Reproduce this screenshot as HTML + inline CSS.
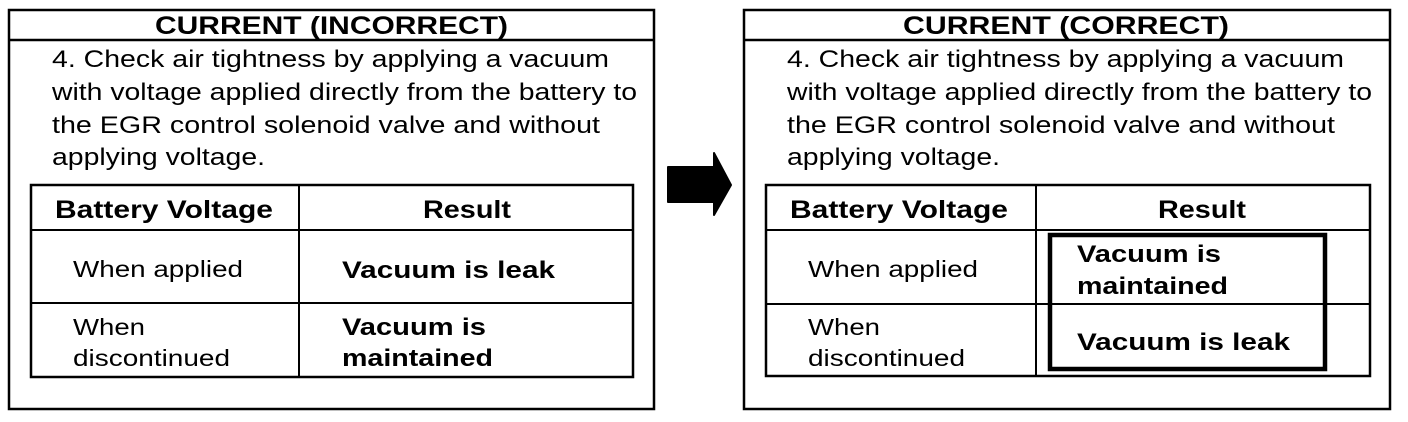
<!DOCTYPE html>
<html><head><meta charset="utf-8"><style>
html,body{margin:0;padding:0;background:#fff;width:1408px;height:422px;overflow:hidden}
svg{display:block}
text{font-family:"Liberation Sans",sans-serif;fill:#000}
.t{font-size:25px;font-weight:bold}
.b{font-size:24px}
.h{font-size:25px;font-weight:bold}
.c{font-size:23px}
.v{font-size:24px;font-weight:bold}
</style></head><body>
<svg width="1408" height="422" viewBox="0 0 1408 422" xmlns="http://www.w3.org/2000/svg">
<g fill="none" stroke="#000">
<rect x="9" y="10" width="645" height="399" stroke-width="2.5"/>
<line x1="9" y1="40" x2="654" y2="40" stroke-width="2.5"/>
<rect x="31" y="185" width="602" height="192" stroke-width="2.5"/>
<line x1="299" y1="185" x2="299" y2="377" stroke-width="2"/>
<line x1="31" y1="230" x2="633" y2="230" stroke-width="2"/>
<line x1="31" y1="303" x2="633" y2="303" stroke-width="2"/>

<rect x="744" y="10" width="646" height="399" stroke-width="2.5"/>
<line x1="744" y1="40" x2="1390" y2="40" stroke-width="2.5"/>
<rect x="766" y="185" width="604" height="191" stroke-width="2.5"/>
<line x1="1036" y1="185" x2="1036" y2="376" stroke-width="2"/>
<line x1="766" y1="230" x2="1370" y2="230" stroke-width="2"/>
<line x1="766" y1="304" x2="1370" y2="304" stroke-width="2"/>
<rect x="1050" y="235" width="275" height="134" stroke-width="4.5"/>
</g>
<path d="M668 167 H714 V153 L731 185 L714 215 V202 H668 Z" fill="#000" stroke="#000" stroke-width="2" stroke-linejoin="round"/>

<text class="t" x="155" y="34" textLength="353" lengthAdjust="spacingAndGlyphs">CURRENT (INCORRECT)</text>
<text class="b" x="52" y="67" textLength="557" lengthAdjust="spacingAndGlyphs">4. Check air tightness by applying a vacuum</text>
<text class="b" x="52" y="100" textLength="585" lengthAdjust="spacingAndGlyphs">with voltage applied directly from the battery to</text>
<text class="b" x="52" y="133" textLength="548" lengthAdjust="spacingAndGlyphs">the EGR control solenoid valve and without</text>
<text class="b" x="52" y="165" textLength="213" lengthAdjust="spacingAndGlyphs">applying voltage.</text>
<text class="h" x="55" y="218" textLength="218" lengthAdjust="spacingAndGlyphs">Battery Voltage</text>
<text class="h" x="423" y="218" textLength="88" lengthAdjust="spacingAndGlyphs">Result</text>
<text class="c" x="73" y="277" textLength="170" lengthAdjust="spacingAndGlyphs">When applied</text>
<text class="c" x="73" y="335" textLength="72" lengthAdjust="spacingAndGlyphs">When</text>
<text class="c" x="73" y="366" textLength="157" lengthAdjust="spacingAndGlyphs">discontinued</text>
<text class="v" x="342" y="278" textLength="213" lengthAdjust="spacingAndGlyphs">Vacuum is leak</text>
<text class="v" x="342" y="335" textLength="144" lengthAdjust="spacingAndGlyphs">Vacuum is</text>
<text class="v" x="342" y="366" textLength="151" lengthAdjust="spacingAndGlyphs">maintained</text>

<text class="t" x="903" y="34" textLength="326" lengthAdjust="spacingAndGlyphs">CURRENT (CORRECT)</text>
<text class="b" x="787" y="67" textLength="557" lengthAdjust="spacingAndGlyphs">4. Check air tightness by applying a vacuum</text>
<text class="b" x="787" y="100" textLength="585" lengthAdjust="spacingAndGlyphs">with voltage applied directly from the battery to</text>
<text class="b" x="787" y="133" textLength="548" lengthAdjust="spacingAndGlyphs">the EGR control solenoid valve and without</text>
<text class="b" x="787" y="165" textLength="213" lengthAdjust="spacingAndGlyphs">applying voltage.</text>
<text class="h" x="790" y="218" textLength="218" lengthAdjust="spacingAndGlyphs">Battery Voltage</text>
<text class="h" x="1158" y="218" textLength="88" lengthAdjust="spacingAndGlyphs">Result</text>
<text class="c" x="808" y="277" textLength="170" lengthAdjust="spacingAndGlyphs">When applied</text>
<text class="c" x="808" y="335" textLength="72" lengthAdjust="spacingAndGlyphs">When</text>
<text class="c" x="808" y="366" textLength="157" lengthAdjust="spacingAndGlyphs">discontinued</text>
<text class="v" x="1077" y="262" textLength="144" lengthAdjust="spacingAndGlyphs">Vacuum is</text>
<text class="v" x="1077" y="294" textLength="151" lengthAdjust="spacingAndGlyphs">maintained</text>
<text class="v" x="1077" y="350" textLength="213" lengthAdjust="spacingAndGlyphs">Vacuum is leak</text>
</svg>
</body></html>
